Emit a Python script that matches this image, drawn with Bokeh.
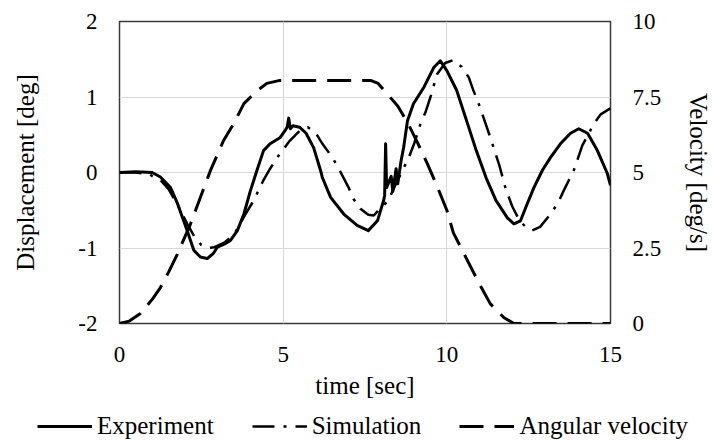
from bokeh.plotting import figure
from bokeh.models import (Range1d, LinearAxis, FixedTicker, CustomJSTickFormatter,
                          Legend, LegendItem)
from bokeh.embed import file_html
from bokeh.resources import INLINE

# Measured displacement [deg]
exp_t = [0, 0.5, 1.0, 1.25, 1.56, 1.77, 1.96, 2.1, 2.27, 2.47, 2.68, 2.87, 2.99, 3.2,
         3.39, 3.6, 3.8, 4.0, 4.2, 4.4, 4.6, 4.9, 5.05, 5.12, 5.17, 5.22, 5.3, 5.5,
         5.7, 5.93, 6.14, 6.2, 6.45, 6.85, 7.26, 7.6, 7.88, 8.07, 8.1, 8.13, 8.16,
         8.3, 8.35, 8.45, 8.5, 8.6, 8.68, 8.8, 8.98, 9.3, 9.6, 9.8, 10.0, 10.3, 10.6,
         10.9, 11.2, 11.5, 11.85, 12.05, 12.25, 12.46, 12.66, 12.92, 13.17, 13.47,
         13.78, 14.03, 14.3, 14.6, 14.9, 15.0]
exp_d = [0.0, 0.01, 0.0, -0.06, -0.2, -0.41, -0.64, -0.81, -1.03, -1.12, -1.14, -1.07,
         -0.99, -0.95, -0.9, -0.77, -0.55, -0.24, 0.03, 0.29, 0.38, 0.46, 0.55, 0.6,
         0.72, 0.58, 0.62, 0.6, 0.52, 0.33, 0.03, -0.07, -0.33, -0.55, -0.7, -0.77,
         -0.64, -0.37, -0.3, 0.38, -0.2, -0.05, -0.25, 0.05, -0.15, 0.15, 0.33, 0.69,
         0.91, 1.13, 1.39, 1.48, 1.35, 1.09, 0.69, 0.29, -0.07, -0.37, -0.6, -0.68,
         -0.64, -0.41, -0.2, 0.03, 0.2, 0.38, 0.52, 0.58, 0.52, 0.29, -0.01, -0.17]

# Simulated displacement [deg]
sim_t = [0, 0.5, 0.9, 1.05, 1.25, 1.5, 1.8, 2.07, 2.3, 2.5, 2.7, 2.9, 3.2, 3.5, 3.85,
         4.1, 4.4, 4.6, 4.82, 5.2, 5.5, 5.75, 6.0, 6.2, 6.5, 6.7, 7.0, 7.15, 7.36,
         7.6, 7.77, 7.97, 8.2, 8.5, 8.83, 9.0, 9.2, 9.35, 9.5, 9.7, 9.95, 10.2, 10.45,
         10.67, 10.8, 11.0, 11.3, 11.6, 11.8, 12.0, 12.2, 12.4, 12.6, 12.85, 13.17,
         13.4, 13.57, 13.88, 14.0, 14.14, 14.5, 14.7, 15.0]
sim_d = [0.0, 0.0, -0.02, -0.06, -0.1, -0.22, -0.45, -0.68, -0.86, -0.96, -1.0, -0.99,
         -0.93, -0.82, -0.55, -0.37, -0.1, 0.05, 0.2, 0.42, 0.55, 0.6, 0.52, 0.38,
         0.2, 0.05, -0.2, -0.35, -0.48, -0.56, -0.57, -0.47, -0.38, -0.1, 0.19, 0.38,
         0.65, 0.8, 1.0, 1.3, 1.45, 1.49, 1.4, 1.26, 1.1, 0.88, 0.5, 0.1, -0.22,
         -0.45, -0.62, -0.72, -0.77, -0.72, -0.55, -0.4, -0.24, 0.03, 0.18, 0.36,
         0.65, 0.77, 0.85]

# Commanded angular velocity [deg/s]
vel_t = [0, 0.3, 0.64, 1.0, 1.25, 1.5, 1.77, 2.17, 2.47, 2.78, 3.18, 3.48, 3.8, 4.2,
         4.5, 4.9, 7.67, 7.9, 8.18, 8.5, 8.8, 9.1, 9.4, 9.7, 10.0, 10.2, 10.6, 11.0,
         11.33, 11.74, 12.05, 15.0]
vel_v = [0.0, 0.08, 0.33, 0.8, 1.19, 1.7, 2.3, 3.3, 4.17, 5.07, 6.06, 6.6, 7.28, 7.7,
         7.95, 8.05, 8.05, 7.95, 7.6, 7.2, 6.65, 6.0, 5.3, 4.55, 3.75, 3.0, 2.15, 1.3,
         0.65, 0.2, 0.0, 0.0]

x_ticks = [0, 5, 10, 15]
disp_ticks = [-2, -1, 0, 1, 2]
vel_ticks = [0, 2.5, 5, 7.5, 10]
series_names = ["Experiment", "Simulation", "Angular velocity"]

FONT = "Liberation Serif"
fmt = CustomJSTickFormatter(code="return tick.toString();")

# line styles shared by the chart and its key
STYLES = [dict(line_color="black", line_width=3, line_join="round"),
          dict(line_color="black", line_width=2.5, line_dash="22 9 3 9"),
          dict(line_color="black", line_width=3, line_dash="24 11")]

p = figure(frame_width=491, frame_height=302, output_backend="svg",
           toolbar_location=None,
           x_range=Range1d(0, 15), y_range=Range1d(-2, 2),
           min_border_left=119, min_border_right=102,
           min_border_top=21, min_border_bottom=89)
p.extra_y_ranges = {"vel": Range1d(0, 10)}

p.background_fill_color = "white"
p.border_fill_color = "white"
p.outline_line_color = "#3a3a3a"
p.outline_line_width = 1.5

# grid
p.xgrid.ticker = FixedTicker(ticks=[5, 10])
p.ygrid.ticker = FixedTicker(ticks=[-1, 0, 1])
for g in (p.xgrid, p.ygrid):
    g.grid_line_color = "#d9d9d9"
    g.grid_line_width = 1.2

def style_axis(ax, ticks, label, standoff, label_standoff):
    ax.ticker = FixedTicker(ticks=ticks)
    ax.formatter = fmt
    ax.axis_line_color = None
    ax.major_tick_line_color = None
    ax.minor_tick_line_color = None
    ax.major_tick_out = 0
    ax.major_tick_in = 0
    ax.major_label_text_font = FONT
    ax.major_label_text_font_size = "23px"
    ax.major_label_text_color = "black"
    ax.major_label_standoff = standoff
    ax.axis_label = label
    ax.axis_label_text_font = FONT
    ax.axis_label_text_font_size = "25px"
    ax.axis_label_text_font_style = "normal"
    ax.axis_label_text_color = "black"
    ax.axis_label_standoff = label_standoff

style_axis(p.xaxis[0], x_ticks, "time [sec]", 23, 7)
style_axis(p.yaxis[0], disp_ticks, "Displacement [deg]", 22, 36)

right = LinearAxis(y_range_name="vel")
style_axis(right, vel_ticks, "Velocity [deg/s]", 22, 21)
p.add_layout(right, "right")

p.line(exp_t, exp_d, **STYLES[0])
p.line(sim_t, sim_d, **STYLES[1])
p.line(vel_t, vel_v, y_range_name="vel", **STYLES[2])

# key strip rendered underneath the chart
k = figure(width=712, height=29, output_backend="svg", toolbar_location=None,
           x_range=Range1d(0, 1), y_range=Range1d(0, 1),
           x_axis_location=None, y_axis_location=None,
           min_border=0, min_border_left=0, min_border_right=0,
           min_border_top=0, min_border_bottom=0, outline_line_color=None)
k.grid.visible = False
k.border_fill_color = "white"
k.background_fill_color = "white"
key_items = []
for name, st in zip(series_names, STYLES):
    r = k.line([-2, -1], [-2, -1], **st)
    key_items.append(LegendItem(label=name, renderers=[r]))
key = Legend(items=key_items, orientation="horizontal", location=(37, 1),
             label_text_font=FONT, label_text_font_size="25px",
             label_text_color="black",
             glyph_width=55, glyph_height=20, label_standoff=5, spacing=38,
             padding=0, margin=0, border_line_color=None,
             background_fill_alpha=0)
k.add_layout(key)

open("out.html", "w").write(file_html([p, k], INLINE))
